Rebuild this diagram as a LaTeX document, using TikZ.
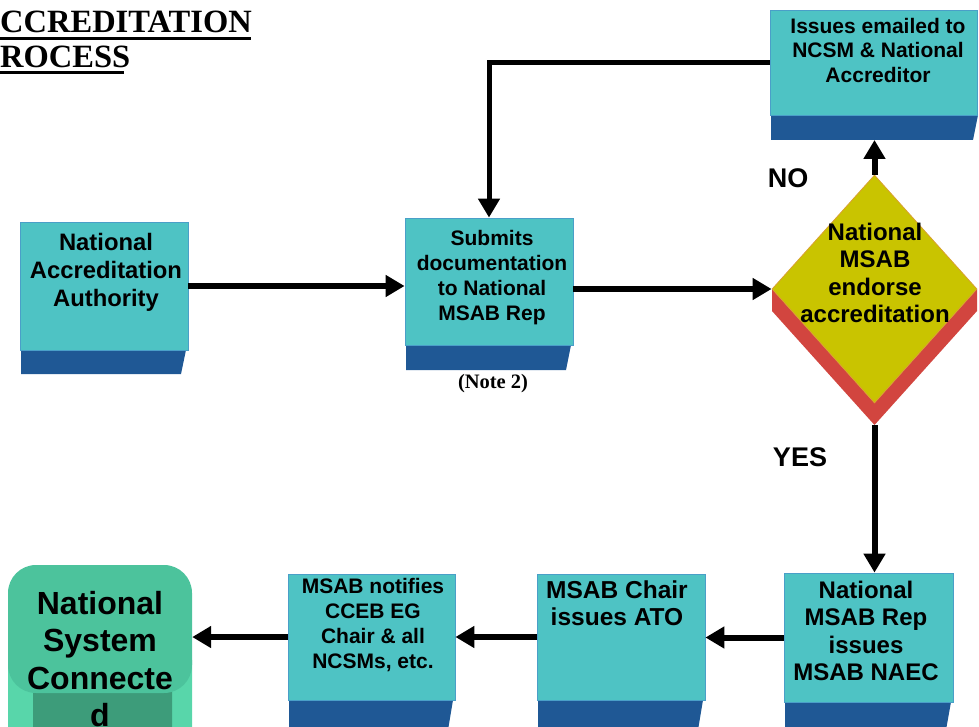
\documentclass[tikz,border=0pt]{standalone}
\usepackage{fontspec}
\setmainfont{Liberation Sans}
\newfontfamily\titlefont{Liberation Serif}
\usetikzlibrary{arrows.meta,shapes.geometric}
\definecolor{faceC}{HTML}{4EC3C4}
\definecolor{faceD}{HTML}{4A9FC8}
\definecolor{bandC}{HTML}{1F5895}
\definecolor{yel}{HTML}{C9C400}
\definecolor{yelD}{HTML}{D9A030}
\definecolor{redC}{HTML}{D2453F}
\definecolor{grn}{HTML}{4CC39C}
\definecolor{grnD}{HTML}{3D9C7A}
\definecolor{grnL}{HTML}{58D6AA}
\begin{document}
\begin{tikzpicture}[x=1pt,y=-1pt,
  face/.style={rectangle, fill=faceC, draw=faceD, line width=0.8pt, inner sep=0pt},
  band/.style={fill=bandC},
  lbl/.style={font=\bfseries\fontsize{23.8}{28}\selectfont, align=center, inner sep=0pt},
  lblsm/.style={font=\bfseries\fontsize{21}{25}\selectfont, align=center, inner sep=0pt},
  conn/.style={line width=6pt, -{Triangle[width=21pt,length=19pt]}},
  yesno/.style={font=\bfseries\fontsize{27}{30}\selectfont, inner sep=0pt},
  ttl/.style={font=\titlefont\bfseries\fontsize{32.5}{35}\selectfont, inner sep=0pt},
]
\useasboundingbox (0,0) rectangle (979,727);

% title
\node[ttl, anchor=base west] (ttl1) at (0,33) {CCREDITATION};
\node[ttl, anchor=base west] (ttl2) at (0,68) {ROCESS};
\fill (0,37) rectangle (251,40);
\fill (0,71) rectangle (124,74);

% box 1
\fill[band] (21,350) -- (186,350) -- (181,374) -- (21,374) -- cycle;
\node[face, minimum width=168pt, minimum height=128pt] (b1) at (104,286) {};
\node[lbl] (t1) at (106,272) {National\\Accreditation\\Authority};

% box 2
\fill[band] (406,345) -- (571,345) -- (566,370) -- (406,370) -- cycle;
\node[face, minimum width=168pt, minimum height=127pt] (b2) at (489,281.5) {};
\node[lblsm] (t2) at (492,277.5) {Submits\\documentation\\to National\\MSAB Rep};
\node[font=\titlefont\bfseries\fontsize{20.5}{22}\selectfont, inner sep=0pt] (n2) at (493,384) {(Note 2)};

% box 3
\fill[band] (771,115) -- (978,115) -- (973,140) -- (771,140) -- cycle;
\node[face, minimum width=207pt, minimum height=105pt] (b3) at (873.5,62.5) {};
\node[font=\bfseries\fontsize{21}{24.5}\selectfont, align=center, inner sep=0pt] (t3) at (878,50) {Issues emailed to\\NCSM \& National\\Accreditor};
\coordinate (b3b) at (874.5,140);

% diamond
\fill[redC] (772,289) -- (772,311) -- (874.5,425) -- (977,311) -- (977,289) -- (874.5,403) -- cycle;
\node[diamond, fill=yel, draw=yelD, line width=0.8pt, minimum width=205pt, minimum height=228pt, inner sep=0pt] (dia) at (874.5,289) {};
\node[font=\bfseries\fontsize{24}{27.3}\selectfont, align=center, inner sep=0pt] (td) at (875,273) {National\\MSAB\\endorse\\accreditation};
\coordinate (diab) at (874.5,425);

\node[yesno] (no) at (788,178) {NO};
\node[yesno] (yes) at (800,457) {YES};

% bottom row
\fill[band] (785,702) -- (951,702) -- (946,730) -- (785,730) -- cycle;
\node[face, minimum width=169pt, minimum height=129pt] (b4) at (868.5,637.5) {};
\node[font=\bfseries\fontsize{24}{27.3}\selectfont, align=center, inner sep=0pt] (t4) at (866,631) {National\\MSAB Rep\\issues\\MSAB NAEC};

\fill[band] (538,700) -- (703,700) -- (698,730) -- (538,730) -- cycle;
\node[face, minimum width=168pt, minimum height=126pt] (b5) at (621,637) {};
\node[font=\bfseries\fontsize{24.5}{27}\selectfont, align=center, inner sep=0pt] (t5) at (617,603.5) {MSAB Chair\\issues ATO};

\fill[band] (289,700) -- (453,700) -- (448,730) -- (289,730) -- cycle;
\node[face, minimum width=167pt, minimum height=126pt] (b6) at (371.5,637) {};
\node[lblsm] (t6) at (373,625.5) {MSAB notifies\\CCEB EG\\Chair \& all\\NCSMs, etc.};

% green terminal
\fill[grnL, rounded corners=20pt] (8,640) rectangle (192,770);
\fill[grnD, rounded corners=6pt] (33,685) rectangle (172,770);
\node[fill=grn, rounded corners=28pt, minimum width=184pt, minimum height=128pt, inner sep=0pt] (g) at (100,629) {};
\node[font=\bfseries\fontsize{32}{37.3}\selectfont, align=center, inner sep=0pt] (tg) at (100,659) {National\\System\\Connecte\\d};

% connectors
\draw[conn] (b1.east) -- (b1.east -| b2.west);
\draw[conn] (b2.east |- dia.west) -- (dia.west);
\draw[conn] (dia.north) -- (b3b);
\draw[conn, line width=5pt] (b3.west) -| (b2.north);
\draw[conn] (diab) -- (diab |- b4.north);
\draw[conn] (b4.west) -- (b4.west -| b5.east);
\draw[conn] (b5.west) -- (b5.west -| b6.east);
\draw[conn] (b6.west) -- (b6.west -| g.east);
\end{tikzpicture}
\end{document}
